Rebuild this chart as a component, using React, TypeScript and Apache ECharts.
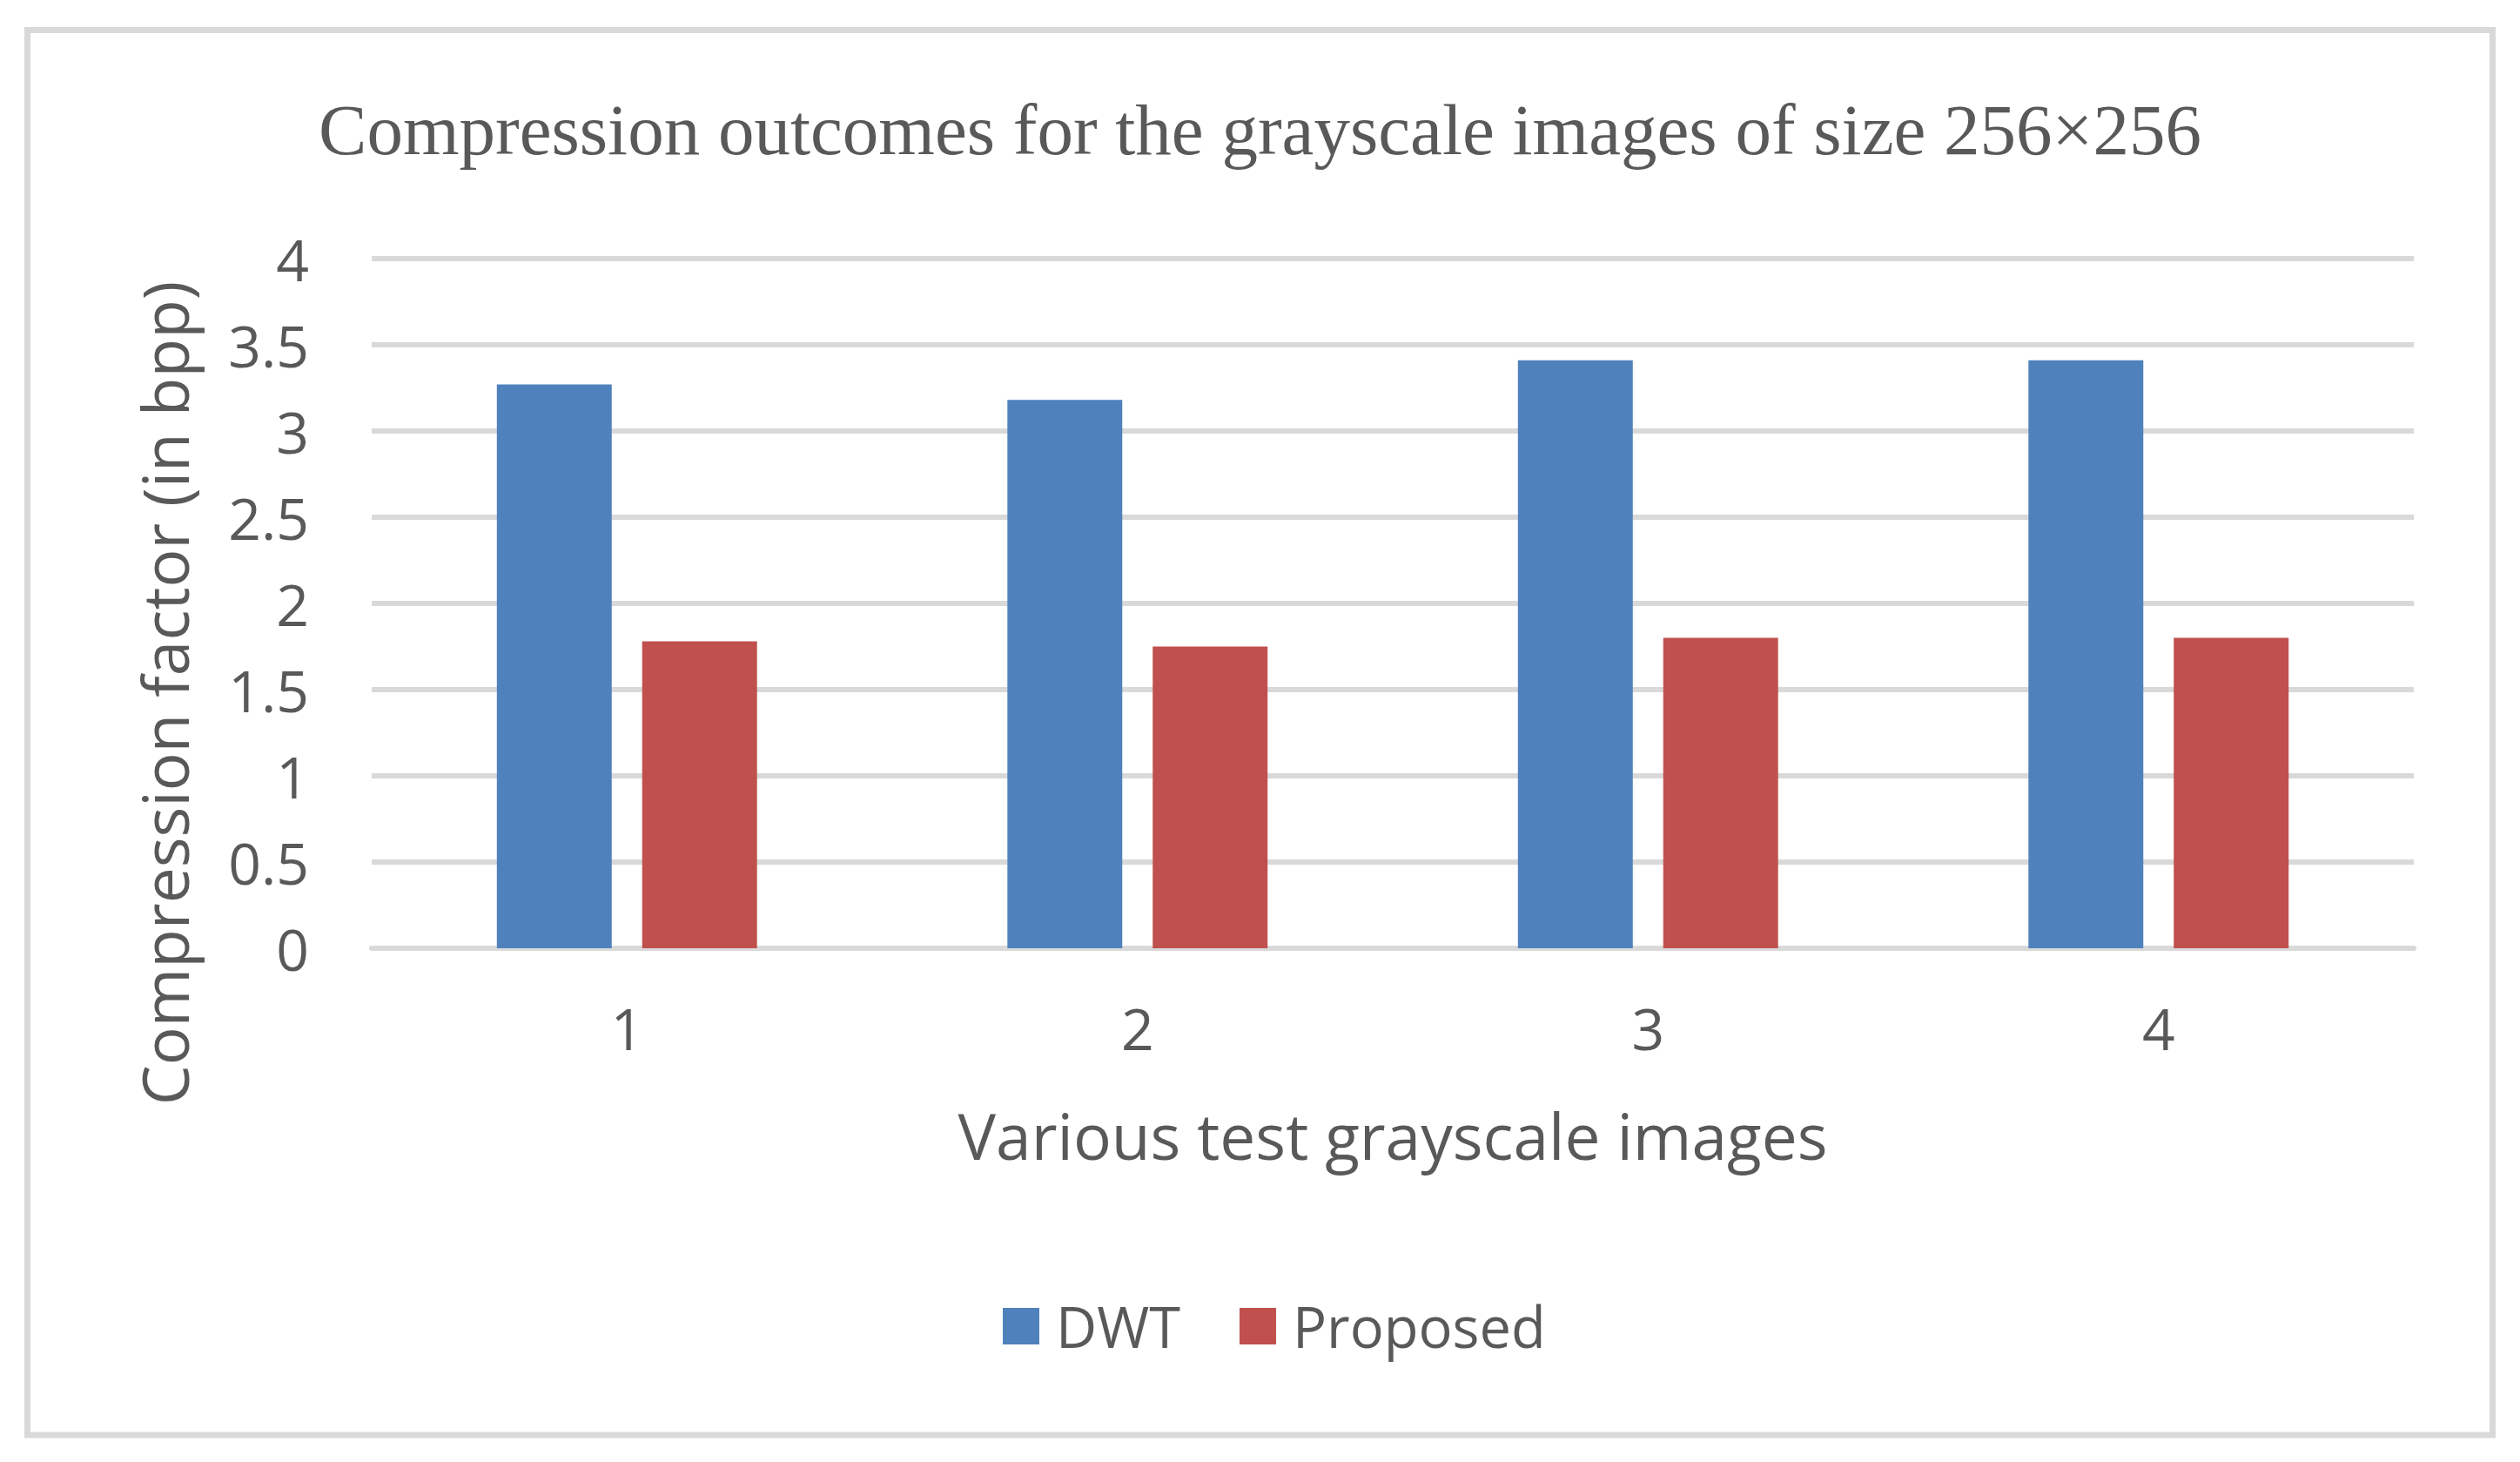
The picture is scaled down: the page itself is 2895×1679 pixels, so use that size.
import React, { useEffect, useRef } from "react";
import * as echarts from "echarts";

const categories = ["1", "2", "3", "4"];
const dwtValues = [3.27, 3.18, 3.41, 3.41];
const proposedValues = [1.78, 1.75, 1.8, 1.8];
const seriesNames = ["DWT", "Proposed"];
const titleText = "Compression outcomes for the grayscale images of size 256×256";
const xAxisTitle = "Various test grayscale images";
const yAxisTitle = "Compression factor (in bpp)";

const TEXT = "#595959";
const GRID = "#d9d9d9";
const SANS = "'Open Sans', 'Noto Sans', sans-serif";

export default function App() {
  const ref = useRef<HTMLDivElement>(null);
  useEffect(() => {
    if (!ref.current) return;
    const chart = echarts.init(ref.current, null, { renderer: "svg" });
    chart.setOption({
      animation: false,
      backgroundColor: "#ffffff",
      title: {
        text: titleText,
        left: "center",
        top: 107,
        padding: 0,
        textStyle: {
          fontFamily: "'Liberation Serif', 'Times New Roman', serif",
          fontSize: 83,
          lineHeight: 84,
          fontWeight: "normal",
          color: TEXT,
        },
      },
      graphic: [
        {
          type: "rect",
          shape: { x: 31.5, y: 34.5, width: 2832, height: 1613.5 },
          style: { fill: "none", stroke: GRID, lineWidth: 7 },
          z: -1,
        },
      ],
      legend: {
        data: seriesNames,
        left: 1152,
        top: 1490,
        padding: 0,
        itemWidth: 42,
        itemHeight: 42,
        itemGap: 68,
        icon: "rect",
        textStyle: {
          fontFamily: SANS,
          fontSize: 65,
          lineHeight: 66,
          color: TEXT,
          padding: [0, 0, 0, 14],
        },
      },
      grid: { left: 427, right: 122, top: 297, bottom: 590, containLabel: false },
      xAxis: {
        type: "category",
        data: categories,
        name: xAxisTitle,
        nameLocation: "middle",
        nameGap: 178,
        nameTextStyle: { fontFamily: SANS, fontSize: 73, lineHeight: 73, color: TEXT },
        axisLine: { show: true, lineStyle: { color: GRID, width: 6 } },
        axisTick: { show: false },
        axisLabel: { fontFamily: SANS, fontSize: 66, lineHeight: 66, color: TEXT, margin: 58 },
        splitLine: { show: false },
      },
      yAxis: {
        type: "value",
        min: 0,
        max: 4,
        interval: 0.5,
        name: yAxisTitle,
        nameLocation: "middle",
        nameRotate: 90,
        nameGap: 202,
        nameTextStyle: {
          fontFamily: SANS,
          fontSize: 73,
          lineHeight: 73,
          color: TEXT,
          padding: [0, 206, 0, 0],
        },
        axisLine: { show: false },
        axisTick: { show: false },
        axisLabel: { fontFamily: SANS, fontSize: 66, color: TEXT, margin: 72 },
        splitLine: { show: true, lineStyle: { color: GRID, width: 6 } },
      },
      series: [
        {
          name: seriesNames[0],
          type: "bar",
          data: dwtValues,
          barWidth: "22.5%",
          barGap: "26.5%",
          itemStyle: { color: "#4f81bd" },
        },
        {
          name: seriesNames[1],
          type: "bar",
          data: proposedValues,
          barWidth: "22.5%",
          barGap: "26.5%",
          itemStyle: { color: "#c0504d" },
        },
      ],
    });
    return () => chart.dispose();
  }, []);
  return (
    <div
      ref={ref}
      style={{ position: "absolute", left: 0, top: 0, width: 2895, height: 1679 }}
    />
  );
}
